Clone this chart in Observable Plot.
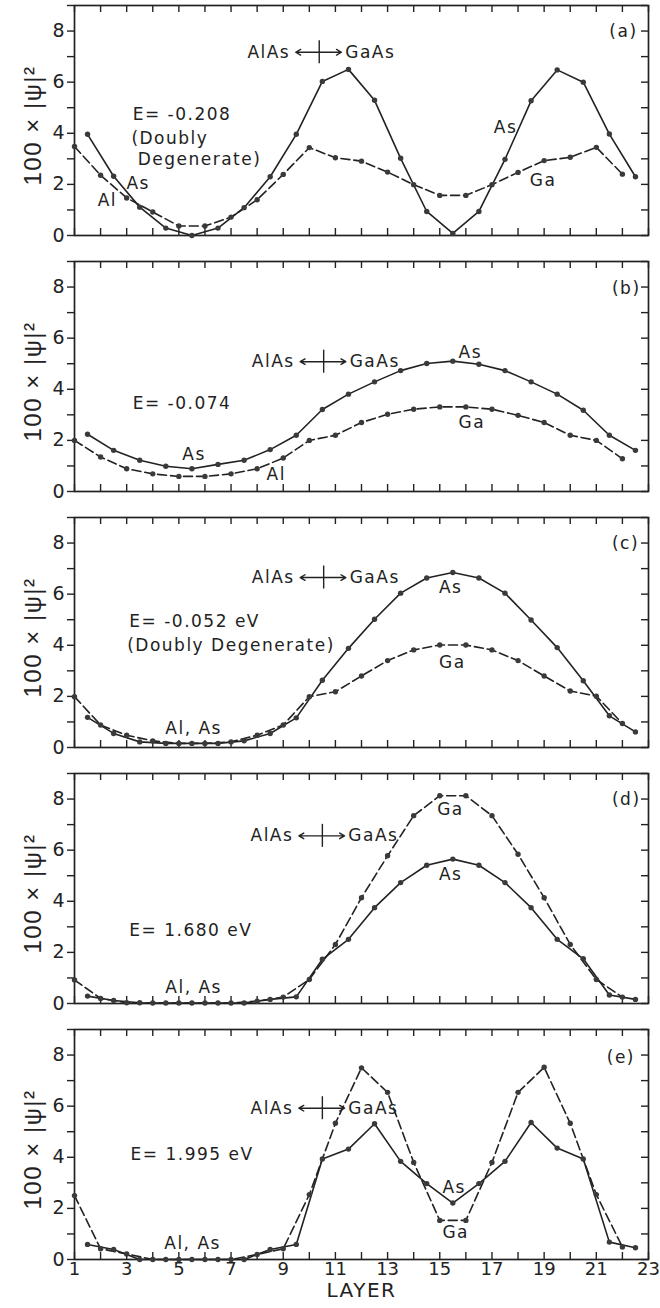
<!DOCTYPE html>
<html><head><meta charset="utf-8">
<script src="https://cdn.jsdelivr.net/npm/d3@7"></script>
<script src="https://cdn.jsdelivr.net/npm/@observablehq/plot@0.6"></script>
<style>
body{margin:0;background:#fff;}
#chart{width:660px;}
#chart svg{display:block;}
#chart svg g[aria-label="text"] text{letter-spacing:1.5px;}
</style></head><body><div id="chart"></div>
<script>
// layer positions: cations (Ga / Al) on integer layers, anions (As) halfway between
const cationLayers = [1,2,3,4,5,6,7,8,9,10,11,12,13,14,15,16,17,18,19,20,21,22];
const anionLayers = [1.5,2.5,3.5,4.5,5.5,6.5,7.5,8.5,9.5,10.5,11.5,12.5,13.5,14.5,15.5,16.5,17.5,18.5,19.5,20.5,21.5,22.5];
const layerTicks = [1,2,3,4,5,6,7,8,9,10,11,12,13,14,15,16,17,18,19,20,21,22,23];
const layerLabels = [1,3,5,7,9,11,13,15,17,19,21,23];
const yTicks = [0,1,2,3,4,5,6,7,8,9];

// 100 x |psi|^2, panel (a)..(e)
const asA = [3.96,2.32,1.11,0.29,0.0,0.29,1.09,2.3,3.96,6.03,6.5,5.29,3.02,0.94,0.08,0.94,2.98,5.27,6.48,6.0,3.97,2.3];
const gaA = [3.48,2.36,1.47,0.92,0.37,0.37,0.72,1.4,2.39,3.44,3.04,2.91,2.48,1.99,1.57,1.57,1.99,2.47,2.93,3.06,3.45,2.4];
const asB = [2.24,1.61,1.22,0.99,0.89,1.06,1.22,1.64,2.2,3.21,3.81,4.29,4.73,5.01,5.1,4.98,4.73,4.29,3.81,3.18,2.2,1.61];
const gaB = [2.0,1.35,0.89,0.69,0.59,0.59,0.69,0.89,1.31,2.0,2.2,2.7,3.02,3.22,3.31,3.31,3.22,2.98,2.7,2.2,2.0,1.28];
const asC = [1.18,0.55,0.22,0.16,0.16,0.16,0.26,0.55,1.16,2.63,3.88,5.02,6.04,6.63,6.85,6.63,6.04,4.99,3.91,2.61,1.24,0.61];
const gaC = [1.99,0.88,0.48,0.26,0.16,0.16,0.22,0.48,0.88,1.99,2.18,2.8,3.4,3.82,4.01,4.01,3.82,3.4,2.8,2.21,2.01,0.94];
const asD = [0.29,0.12,0.03,0.02,0.02,0.02,0.02,0.16,0.26,1.73,2.51,3.75,4.73,5.41,5.65,5.41,4.73,3.75,2.51,1.75,0.33,0.16];
const gaD = [0.92,0.2,0.03,0.02,0.02,0.02,0.02,0.09,0.25,0.94,2.31,4.14,5.78,7.35,8.13,8.13,7.35,5.84,4.14,2.31,0.94,0.25];
const asE = [0.59,0.39,0.0,0.0,0.0,0.0,0.0,0.39,0.59,3.93,4.32,5.31,3.84,2.97,2.21,2.97,3.84,5.36,4.36,3.93,0.68,0.46];
const gaE = [2.5,0.42,0.22,0.0,0.0,0.0,0.0,0.2,0.42,2.54,5.33,7.5,6.54,3.8,1.53,1.53,3.8,6.54,7.52,5.33,2.54,0.49];

// annotation texts (anchored at start, in layer / value units)
const labelsA = [
  {text:"(a)", x:21.5, y:8.0},
  {text:"E= -0.208", x:3.23, y:4.72},
  {text:"(Doubly", x:3.18, y:3.81},
  {text:"Degenerate)", x:3.42, y:2.96},
  {text:"As", x:2.99, y:2.05},
  {text:"Al", x:1.89, y:1.35},
  {text:"As", x:17.07, y:4.22},
  {text:"Ga", x:18.45, y:2.15}
];
const labelsB = [
  {text:"(b)", x:21.6, y:7.96},
  {text:"E= -0.074", x:3.23, y:3.44},
  {text:"As", x:5.13, y:1.45},
  {text:"Al", x:8.36, y:0.67},
  {text:"As", x:15.72, y:5.45},
  {text:"Ga", x:15.72, y:2.7}
];
const labelsC = [
  {text:"(c)", x:21.6, y:8.0},
  {text:"E= -0.052 eV", x:3.1, y:4.93},
  {text:"(Doubly Degenerate)", x:3.02, y:3.97},
  {text:"Al, As", x:4.48, y:0.75},
  {text:"As", x:14.97, y:6.24},
  {text:"Ga", x:14.97, y:3.33}
];
const labelsD = [
  {text:"(d)", x:21.6, y:8.0},
  {text:"Ga", x:14.9, y:7.6},
  {text:"As", x:14.97, y:5.06},
  {text:"E= 1.680 eV", x:3.1, y:2.86},
  {text:"Al, As", x:4.48, y:0.64}
];
const labelsE = [
  {text:"(e)", x:21.4, y:7.9},
  {text:"E= 1.995 eV", x:3.15, y:4.1},
  {text:"As", x:15.1, y:2.83},
  {text:"Ga", x:15.1, y:1.04},
  {text:"Al, As", x:4.44, y:0.62}
];
// AlAs | GaAs interface marker
const interfaceA = [{x:10.38, y:7.17}];
const interfaceB = [{x:10.55, y:5.08}];
const interfaceC = [{x:10.55, y:6.65}];
const interfaceD = [{x:10.5, y:6.56}];
const interfaceE = [{x:10.5, y:5.92}];

const panels = [
  {as:asA, ga:gaA, labels:labelsA, iface:interfaceA},
  {as:asB, ga:gaB, labels:labelsB, iface:interfaceB},
  {as:asC, ga:gaC, labels:labelsC, iface:interfaceC},
  {as:asD, ga:gaD, labels:labelsD, iface:interfaceD},
  {as:asE, ga:gaE, labels:labelsE, iface:interfaceE}
];

const ink = "#222";
const W = 660, ML = 74, MR = 12, H = 230;
const FW = W - ML - MR;
const font = "'DejaVu Sans', Verdana, sans-serif";

function makePanel(p, last) {
  const mt = 5, mb = last ? 49 : 21;
  const asRows = anionLayers.map((l, i) => ({layer: l, v: p.as[i]}));
  const gaRows = cationLayers.map((l, i) => ({layer: l, v: p.ga[i]}));
  const marks = [
    Plot.frame({stroke: ink, strokeWidth: 1.7}),
    Plot.tickX(layerTicks, {x: d => d, insetTop: H - 7, stroke: ink, strokeWidth: 1.4}),
    Plot.tickX(layerTicks, {x: d => d, insetBottom: H - 7, stroke: ink, strokeWidth: 1.4}),
    Plot.tickY(yTicks, {y: d => d, insetLeft: FW - 7, stroke: ink, strokeWidth: 1.4}),
    Plot.axisY({ticks: yTicks, tickSize: 7, tickPadding: 3, tickFormat: d => d % 2 === 0 ? String(d) : "", fontSize: 19, label: null, stroke: ink, strokeWidth: 1.4}),
    Plot.text(["100 × |ψ|²"], {frameAnchor: "left", textAnchor: "middle", lineAnchor: "middle", dx: -41, dy: 5, rotate: -90, fontSize: 24, fontFamily: "'Liberation Sans', Arial, sans-serif", fill: ink}),
    Plot.line(gaRows, {x: "layer", y: "v", stroke: ink, strokeWidth: 1.6, strokeDasharray: "9,4"}),
    Plot.line(asRows, {x: "layer", y: "v", stroke: ink, strokeWidth: 1.6}),
    Plot.dot(gaRows, {x: "layer", y: "v", r: 2.7, fill: "#3a3a3a"}),
    Plot.dot(asRows, {x: "layer", y: "v", r: 2.7, fill: "#3a3a3a"}),
    Plot.text(p.labels, {x: "x", y: "y", text: "text", textAnchor: "start", fontSize: 17, fill: ink}),
    Plot.ruleX(p.iface, {x: "x", y1: d => d.y - 0.45, y2: d => d.y + 0.45, stroke: ink, strokeWidth: 1.4}),
    Plot.arrow(p.iface, {x1: "x", y1: "y", x2: d => d.x - 0.9, y2: "y", headLength: 6, stroke: ink, strokeWidth: 1.4}),
    Plot.arrow(p.iface, {x1: "x", y1: "y", x2: d => d.x + 0.85, y2: "y", headLength: 6, stroke: ink, strokeWidth: 1.4}),
    Plot.text(p.iface, {x: "x", y: "y", text: () => "AlAs", dx: -29, textAnchor: "end", fontSize: 17, fill: ink}),
    Plot.text(p.iface, {x: "x", y: "y", text: () => "GaAs", dx: 26, textAnchor: "start", fontSize: 17, fill: ink})
  ];
  if (last) {
    marks.push(Plot.axisX({ticks: layerLabels, tickSize: 0, tickPadding: 3, fontSize: 18, label: null}));
    marks.push(Plot.text(["LAYER"], {frameAnchor: "bottom", textAnchor: "middle", lineAnchor: "middle", dy: 31, fontSize: 20, fill: ink}));
  }
  return Plot.plot({
    width: W,
    height: mt + H + mb,
    marginLeft: ML, marginRight: MR, marginTop: mt, marginBottom: mb,
    style: {fontFamily: font, background: "#fff", color: ink},
    x: {domain: [1, 23], axis: last ? undefined : null},
    y: {domain: [0, 9]},
    marks
  });
}

const chart = document.getElementById("chart");
panels.forEach((p, i) => chart.appendChild(makePanel(p, i === panels.length - 1)));
</script></body></html>
